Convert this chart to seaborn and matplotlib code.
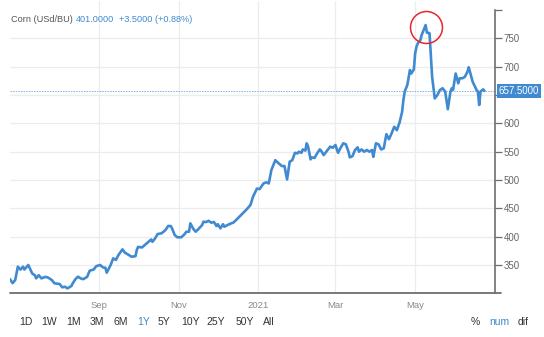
import numpy as np
import pandas as pd
import matplotlib
matplotlib.use("Agg")
import matplotlib.pyplot as plt
import matplotlib.transforms as mtransforms
import seaborn as sns

# Corn futures, daily closes (USd/BU), one-year window
start_date = "2020-06-25"
day_offsets = [
    0, 2, 4, 6, 8, 10, 11, 14, 17, 19, 20, 22, 24, 27, 29, 32, 34, 38, 40, 42,
    44, 47, 48, 50, 52, 54, 56, 59, 61, 64, 66, 69, 71, 73, 74, 77, 79, 81, 83, 86,
    88, 91, 93, 96, 97, 98, 101, 103, 106, 108, 109, 111, 113, 116, 119, 121, 123, 124, 126, 128,
    131, 133, 135, 137, 138, 140, 142, 144, 147, 148, 150, 152, 154, 156, 158, 159, 161, 163, 164, 166,
    168, 171, 173, 176, 178, 181, 184, 186, 189, 191, 194, 196, 198, 200, 203, 205, 208, 210, 212, 214,
    216, 218, 220, 221, 223, 224, 226, 227, 228, 230, 231, 233, 235, 237, 238, 240, 242, 245, 247, 249,
    251, 253, 255, 257, 259, 260, 262, 264, 266, 267, 269, 271, 273, 275, 277, 278, 280, 282, 284, 286,
    288, 290, 292, 294, 296, 298, 300, 301, 302, 304, 306, 307, 309, 310, 311, 312, 314, 315, 316, 318,
    319, 320, 321, 323, 325, 327, 329, 331, 333, 334, 335, 337, 338, 339, 341, 343, 344, 346, 348, 350,
    351, 353, 354, 357, 358, 359, 360, 362, 363,
]
prices = [
    325.0, 318.0, 323.5, 347.0, 342.0, 347.0, 342.0, 350.0, 335.0, 332.0, 326.5, 332.0, 326.5, 329.0, 328.0, 323.5, 317.7, 316.5, 310.6, 311.7,
    308.8, 313.0, 317.7, 324.8, 329.4, 326.5, 325.0, 329.0, 340.0, 342.0, 348.0, 350.0, 346.0, 345.0, 336.4, 350.0, 361.8, 359.0, 367.6, 377.6,
    371.7, 367.6, 364.6, 365.6, 376.5, 382.0, 381.0, 385.0, 391.0, 395.0, 391.0, 397.0, 404.7, 406.0, 411.8, 418.8, 418.8, 414.7, 403.0, 398.9,
    398.9, 403.0, 408.8, 408.8, 423.6, 414.7, 408.8, 413.0, 420.6, 426.4, 425.8, 428.0, 424.7, 426.0, 418.8, 422.0, 414.7, 422.0, 417.6, 420.0,
    422.4, 425.0, 429.4, 436.5, 441.0, 448.0, 456.0, 471.0, 485.0, 484.0, 494.0, 496.0, 494.0, 517.7, 535.0, 530.6, 524.7, 524.7, 501.0, 532.4,
    535.0, 548.0, 547.0, 550.0, 548.0, 554.0, 552.0, 564.8, 560.0, 536.5, 540.0, 539.0, 547.0, 554.0, 552.0, 544.0, 550.0, 559.0, 557.0, 561.8,
    548.0, 557.0, 564.8, 563.0, 550.0, 540.0, 542.0, 553.0, 557.7, 550.0, 554.0, 550.0, 553.0, 550.0, 553.0, 541.0, 564.8, 563.0, 554.0, 556.0,
    581.0, 572.0, 582.5, 594.0, 588.0, 601.0, 620.0, 641.0, 656.0, 667.7, 694.0, 688.0, 695.0, 723.5, 735.0, 741.0, 747.0, 756.0, 762.0, 773.5,
    760.0, 760.0, 759.0, 682.0, 644.0, 650.0, 659.0, 662.0, 656.0, 641.0, 625.0, 656.0, 662.0, 659.0, 688.0, 670.7, 679.5, 679.5, 682.0, 691.0,
    699.0, 682.0, 673.5, 659.0, 656.0, 632.4, 656.0, 660.0, 657.5,
]

tick_dates = ["2020-09-01", "2020-11-01", "2021-01-01", "2021-03-01", "2021-05-01"]
tick_labels = ["Sep", "Nov", "2021", "Mar", "May"]
price_ticks = [350, 400, 450, 500, 550, 600, 650, 700, 750]
last_price = 657.5

header_name = "Corn (USd/BU)"
header_value = "401.0000"
header_change = "+3.5000 (+0.88%)"
range_buttons = ["1D", "1W", "1M", "3M", "6M", "1Y", "5Y", "10Y", "25Y", "50Y", "All"]
range_x = [26, 49, 74, 97, 121, 144, 164, 191, 216, 245, 269]
active_range = "1Y"
mode_buttons = ["%", "num", "dif"]
mode_x = [475, 499, 523]
active_mode = "num"

sns.set_style("white")
plt.rcParams["font.family"] = ["Liberation Sans", "DejaVu Sans"]

LINE = "#3f8ad0"
BLUE_TEXT = "#3f8ad0"
DARK = "#333333"
AXIS = "#6e6e6e"
GRID = "#ececec"
VGRID = "#e8eef4"

W, H = 544, 337
fig = plt.figure(figsize=(W / 100, H / 100), dpi=100)
ax = fig.add_axes([10 / W, 44 / H, 485 / W, 292 / H])

df = pd.DataFrame({
    "date": pd.Timestamp(start_date) + pd.to_timedelta(day_offsets, unit="D"),
    "price": prices,
})

# grid
for p in price_ticks:
    ax.axhline(p, color=GRID, lw=0.9, zorder=0)
for d in tick_dates:
    ax.axvline(pd.Timestamp(d), color=VGRID, lw=0.9, zorder=0)

# last-price guide
ax.axhline(last_price, color="#7fb2e3", lw=0.7, ls=(0, (1.5, 1.2)), zorder=1)

sns.lineplot(data=df, x="date", y="price", ax=ax, color=LINE, linewidth=1.9,
             estimator=None, zorder=3)

# highlight the peak
peak = df.loc[df["price"].idxmax()]
ax.plot(peak["date"], peak["price"] - 3, marker="o", ms=23, mfc="none",
        mec="#e8262b", mew=1.1, zorder=4)

x0 = pd.Timestamp(start_date)
ax.set_xlim(x0, x0 + pd.Timedelta(days=371.1))
ax.set_ylim(300.6, 816)

ax.set_xticks([pd.Timestamp(d) for d in tick_dates])
ax.set_xticklabels(tick_labels)
# the 650 label sits under the last-price tag, so it is left blank
ax.set_yticks(price_ticks + [800])
ax.set_yticklabels([("" if p == 650 else str(p)) for p in price_ticks] + [""])
ax.yaxis.tick_right()
ax.tick_params(axis="y", direction="out", length=5, width=0.9, color=AXIS,
               labelsize=7, labelcolor="#666666", pad=1)
ax.tick_params(axis="x", length=0, labelsize=6.8, labelcolor="#888888", pad=6)
ax.set_xlabel("")
ax.set_ylabel("")

for side in ["top", "left"]:
    ax.spines[side].set_visible(False)
ax.spines["right"].set_color(AXIS)
ax.spines["right"].set_linewidth(1.2)
ax.spines["right"].set_bounds(300.6, 800)
ax.spines["bottom"].set_visible(False)
ax.plot([0, 1.013], [0, 0], transform=ax.transAxes, color=AXIS, lw=1.3,
        clip_on=False, zorder=5)

# last-price label on the axis
trans = mtransforms.blended_transform_factory(ax.transAxes, ax.transData)
ax.text(1.008, last_price, f"{last_price:.4f}", transform=trans, ha="left",
        va="center", color="white", fontsize=7,
        bbox=dict(boxstyle="square,pad=0.18", fc=LINE, ec="none"), zorder=6)

# header, laid out left to right
renderer = fig.canvas.get_renderer()
hx = 11
for txt, col, gap in [(header_name, "#555555", 3), (header_value, BLUE_TEXT, 5),
                      (header_change, BLUE_TEXT, 0)]:
    t = fig.text(hx / W, 1 - 20 / H, txt, color=col, fontsize=6.6, va="center")
    hx += t.get_window_extent(renderer).width + gap

# range / mode selectors
for lab, x in zip(range_buttons, range_x):
    fig.text(x / W, 1 - 322 / H, lab, ha="center", va="center", fontsize=7.5,
             color=BLUE_TEXT if lab == active_range else DARK)
for lab, x in zip(mode_buttons, mode_x):
    fig.text(x / W, 1 - 322 / H, lab, ha="center", va="center", fontsize=7.5,
             color=BLUE_TEXT if lab == active_mode else DARK)

fig.savefig("out.png", dpi=100)
